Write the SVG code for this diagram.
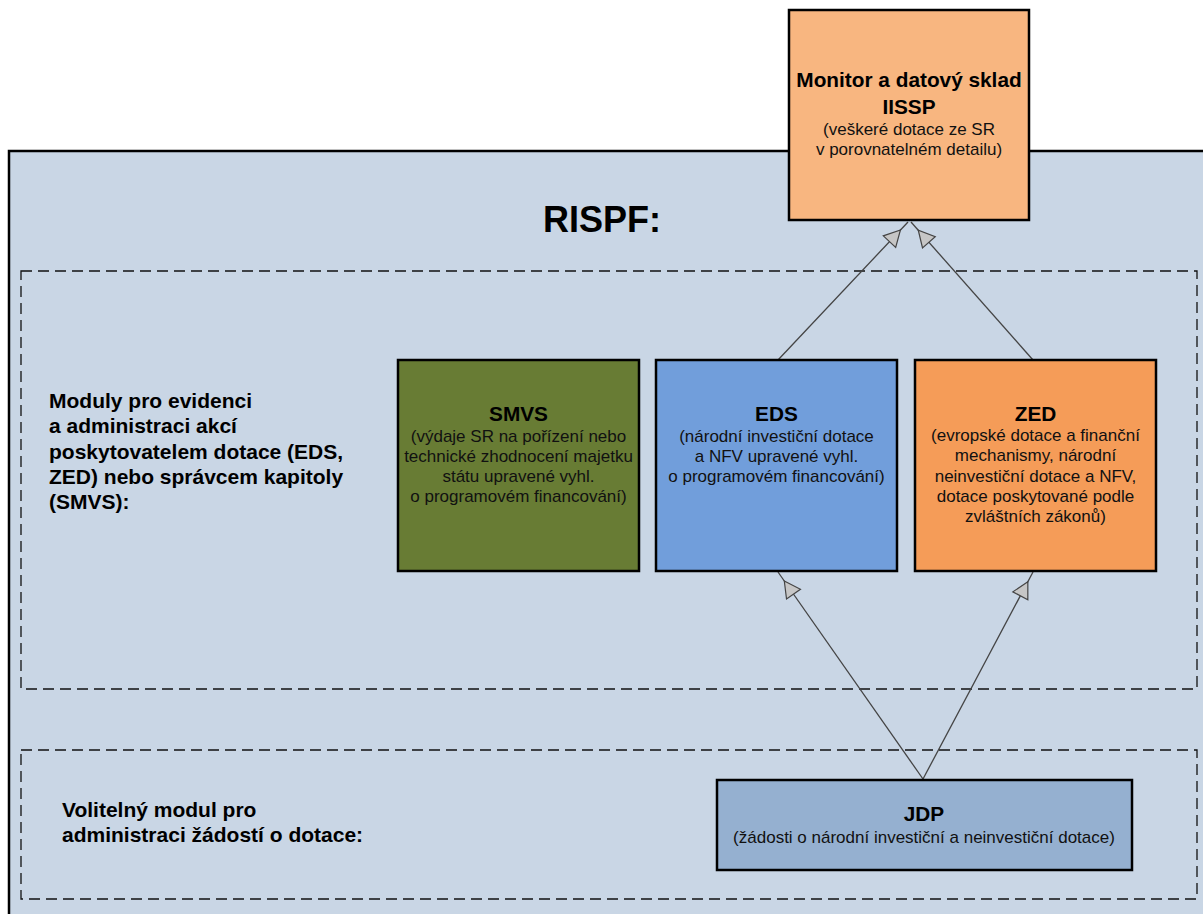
<svg xmlns="http://www.w3.org/2000/svg" width="1203" height="914" viewBox="0 0 1203 914">
<style>
.box{stroke:#000;stroke-width:2.5}
.dash{fill:none;stroke:#111;stroke-width:1.3;stroke-dasharray:11 6}
.t{font-family:"Liberation Sans",Arial,sans-serif;fill:#000}
.b{font-weight:bold;font-size:20.8px}
.r{font-size:17px;fill:#111}
.lbl{font-family:"Liberation Sans",Arial,sans-serif;font-weight:bold;font-size:21px;fill:#000}
.con{fill:none;stroke:#444;stroke-width:1.3}
</style>
<defs>
<marker id="tri" markerUnits="userSpaceOnUse" viewBox="-30 -10 32 20" refX="0" refY="0" markerWidth="32" markerHeight="20" orient="auto" overflow="visible">
<path d="M-11,0 L-27,-8.5 L-27,8.5 Z" fill="#C6C6C6" stroke="#444" stroke-width="1.2"/>
</marker>
</defs>
<rect x="0" y="0" width="1203" height="914" fill="#fff"/>
<g id="rispf">
<rect x="9" y="151" width="1300" height="900" fill="#C9D6E5" stroke="#000" stroke-width="2.5"/>
<text class="t" x="543" y="232" font-weight="bold" font-size="36">RISPF:</text>
</g>
<g id="group-moduly">
<rect class="dash" x="21" y="271" width="1176" height="418"/>
<text class="lbl" x="49" y="408">Moduly pro evidenci</text>
<text class="lbl" x="49" y="433">a administraci akcí</text>
<text class="lbl" x="49" y="459">poskytovatelem dotace (EDS,</text>
<text class="lbl" x="49" y="484">ZED) nebo správcem kapitoly</text>
<text class="lbl" x="49" y="509">(SMVS):</text>
</g>
<g id="group-volitelny">
<rect class="dash" x="21" y="750" width="1176" height="149"/>
<text class="lbl" x="62" y="817">Volitelný modul pro</text>
<text class="lbl" x="62" y="842">administraci žádostí o dotace:</text>
</g>
<g id="connectors">
<path class="con" d="M778,360 L908,222" marker-end="url(#tri)"/>
<path class="con" d="M1033,360 L911,222" marker-end="url(#tri)"/>
<path class="con" d="M923,779 L778,572" marker-end="url(#tri)"/>
<path class="con" d="M923,779 L1033,572" marker-end="url(#tri)"/>
</g>
<g id="monitor">
<rect class="box" x="789" y="10" width="240" height="210" fill="#F8B680"/>
<text class="t" text-anchor="middle" x="909"><tspan class="b" x="909" y="87">Monitor a datový sklad</tspan><tspan class="b" x="909" y="114">IISSP</tspan><tspan class="r" x="909" y="135">(veškeré dotace ze SR</tspan><tspan class="r" x="909" y="155">v porovnatelném detailu)</tspan></text>
</g>
<g id="smvs">
<rect class="box" x="398" y="360" width="241" height="211" fill="#687C34"/>
<text class="t" text-anchor="middle"><tspan class="b" x="518.5" y="421">SMVS</tspan><tspan class="r" x="518.5" y="442">(výdaje SR na pořízení nebo</tspan><tspan class="r" x="518.5" y="462">technické zhodnocení majetku</tspan><tspan class="r" x="518.5" y="482">státu upravené vyhl.</tspan><tspan class="r" x="518.5" y="502">o programovém financování)</tspan></text>
</g>
<g id="eds">
<rect class="box" x="656" y="360" width="241" height="211" fill="#719EDB"/>
<text class="t" text-anchor="middle"><tspan class="b" x="776.5" y="421">EDS</tspan><tspan class="r" x="776.5" y="442">(národní investiční dotace</tspan><tspan class="r" x="776.5" y="462">a NFV upravené vyhl.</tspan><tspan class="r" x="776.5" y="482">o programovém financování)</tspan></text>
</g>
<g id="zed">
<rect class="box" x="915" y="360" width="241" height="211" fill="#F59C58"/>
<text class="t" text-anchor="middle"><tspan class="b" x="1035.5" y="421">ZED</tspan><tspan class="r" x="1035.5" y="441">(evropské dotace a finanční</tspan><tspan class="r" x="1035.5" y="461">mechanismy, národní</tspan><tspan class="r" x="1035.5" y="482">neinvestiční dotace a NFV,</tspan><tspan class="r" x="1035.5" y="502">dotace poskytované podle</tspan><tspan class="r" x="1035.5" y="522">zvláštních zákonů)</tspan></text>
</g>
<g id="jdp">
<rect class="box" x="717" y="780" width="415" height="90" fill="#95B0D0"/>
<text class="t" text-anchor="middle"><tspan class="b" x="924" y="821">JDP</tspan><tspan class="r" x="924" y="843">(žádosti o národní investiční a neinvestiční dotace)</tspan></text>
</g>
</svg>
